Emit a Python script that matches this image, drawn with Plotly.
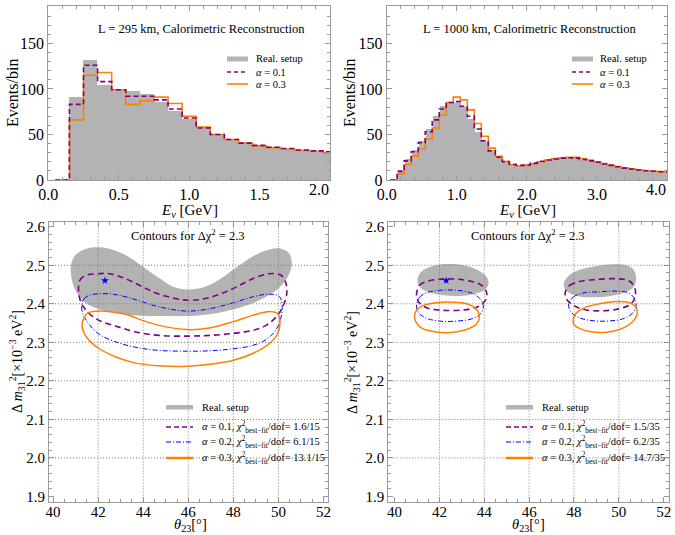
import plotly.graph_objects as go

W, H = 675, 535
FONT = "Liberation Serif"

# ---------------- event spectra (events per 0.1 GeV bin) ----------------
bins_295 = [round(0.1 * k, 1) for k in range(1, 21)]      # bin centres, GeV
real_295 = [0, 91, 132, 104, 100, 98, 94, 86, 76, 67, 58, 50.5, 45, 41, 38, 36, 34.5, 33, 32, 31]
a01_295 = [0, 83, 126, 108, 99, 92, 92, 88, 78, 68, 57, 50, 44.5, 40.5, 38, 36, 34.5, 33, 32, 31]
a03_295 = [0, 66, 115, 118, 99, 83, 87, 91, 84, 70, 58, 50, 44.5, 40.5, 37.5, 35.5, 34, 32.5, 31.5, 30]

bins_1000 = [round(0.1 * k, 1) for k in range(1, 41)]
real_1000 = [0, 11, 23, 33, 43, 56, 70, 81, 86, 85, 80, 67, 53, 42, 33, 25, 20, 17, 17, 18, 19,
             21, 22, 23, 24, 24.5, 24, 22.5, 21, 19.5, 17.5, 16, 14.5, 13, 12, 11, 10.2, 9.6, 9.1, 8.8]
a01_1000 = [0, 9.5, 21, 31, 41, 53, 66, 78, 85, 86, 81, 70, 56, 43, 32, 25, 20, 17, 16, 16.5, 18.5,
            20.5, 22, 23, 24, 24.5, 24, 22.5, 21, 19.5, 17.5, 16, 14.5, 13, 12, 11, 10.2, 9.6, 9.1, 8.8]
a03_1000 = [0, 6.6, 17, 26, 34, 45, 57, 71, 85, 91, 88, 77, 62, 48, 35, 26, 20.5, 17, 15.5, 16, 17.5,
            20, 22, 23.5, 24.5, 25, 24.8, 23.5, 22, 20, 18, 16.3, 14.8, 13.3, 12.2, 11.2, 10.4, 9.7, 9.2, 8.8]
BIN_W = 0.1

# tick labels of the energy axes
ticks_295 = [0.0, 0.5, 1.0, 1.5, 2.0]
ticks_1000 = [0.0, 1.0, 2.0, 3.0, 4.0]

# ---------------- Δχ² = 2.3 contours, (θ23 [deg], Δm31² [1e-3 eV²]) ----------------
real_295_cont = [(40.79, 2.496), (40.93, 2.522), (41.30, 2.539), (41.75, 2.546), (42.49, 2.543),
                 (43.23, 2.526), (43.97, 2.497), (44.71, 2.467), (45.30, 2.445), (45.97, 2.437),
                 (46.64, 2.442), (47.38, 2.463), (48.12, 2.494), (48.86, 2.523), (49.60, 2.541),
                 (50.12, 2.543), (50.46, 2.532), (50.59, 2.509), (50.52, 2.483), (50.27, 2.457),
                 (49.82, 2.431), (49.16, 2.409), (48.41, 2.392), (47.53, 2.379), (46.64, 2.371),
                 (45.97, 2.368), (45.01, 2.368), (43.97, 2.369), (43.08, 2.373), (42.34, 2.381),
                 (41.75, 2.392), (41.30, 2.409), (41.01, 2.433), (40.83, 2.463)]
a01_295_cont = [(41.13, 2.435), (41.19, 2.461), (41.45, 2.474), (42.00, 2.478), (42.49, 2.478),
                (43.23, 2.465), (43.97, 2.444), (44.71, 2.425), (45.97, 2.409), (46.93, 2.416),
                (47.97, 2.439), (48.86, 2.465), (49.60, 2.478), (50.12, 2.474), (50.34, 2.452),
                (50.37, 2.426), (50.19, 2.392), (49.90, 2.366), (49.45, 2.344), (48.86, 2.331),
                (47.97, 2.323), (46.93, 2.318), (45.97, 2.316), (44.71, 2.318), (43.67, 2.327),
                (42.79, 2.342), (42.04, 2.357), (41.53, 2.379), (41.23, 2.405)]
a02_295_cont = [(41.27, 2.400), (41.38, 2.413), (41.60, 2.422), (42.00, 2.426), (42.64, 2.425),
                (43.23, 2.418), (43.97, 2.405), (44.71, 2.392), (45.97, 2.381), (46.93, 2.387),
                (47.97, 2.402), (48.86, 2.418), (49.60, 2.425), (50.04, 2.419), (50.16, 2.400),
                (50.12, 2.366), (49.90, 2.333), (49.45, 2.307), (48.86, 2.292), (47.97, 2.283),
                (46.93, 2.278), (45.97, 2.277), (44.71, 2.279), (43.67, 2.287), (42.79, 2.301),
                (42.04, 2.321), (41.60, 2.347), (41.33, 2.373)]
a03_295_cont = [(41.30, 2.336), (41.33, 2.357), (41.53, 2.376), (42.00, 2.381), (42.64, 2.379),
                (43.23, 2.373), (43.97, 2.357), (44.71, 2.344), (45.97, 2.333), (46.93, 2.337),
                (47.97, 2.353), (48.86, 2.370), (49.60, 2.380), (49.97, 2.374), (50.07, 2.353),
                (49.97, 2.323), (49.60, 2.297), (48.86, 2.271), (47.97, 2.253), (46.93, 2.243),
                (45.97, 2.238), (44.71, 2.239), (43.67, 2.246), (42.79, 2.262), (42.04, 2.284),
                (41.53, 2.310)]

real_1000_lo = [(41.02, 2.457), (41.14, 2.480), (41.51, 2.494), (42.03, 2.502), (42.62, 2.503),
                (43.21, 2.498), (43.73, 2.487), (44.10, 2.470), (44.19, 2.452), (44.03, 2.437),
                (43.59, 2.426), (42.92, 2.420), (42.18, 2.422), (41.59, 2.429), (41.17, 2.441)]
real_1000_hi = [(47.54, 2.452), (47.73, 2.471), (48.10, 2.485), (48.84, 2.496), (49.59, 2.502),
                (50.25, 2.501), (50.65, 2.489), (50.77, 2.465), (50.65, 2.443), (50.25, 2.429),
                (49.51, 2.419), (48.70, 2.417), (48.10, 2.421), (47.66, 2.433)]
a01_1000_lo = [(40.99, 2.430), (41.11, 2.448), (41.44, 2.458), (42.03, 2.464), (42.77, 2.464),
               (43.44, 2.458), (43.88, 2.448), (44.10, 2.430), (44.06, 2.410), (43.73, 2.393),
               (43.07, 2.384), (42.18, 2.383), (41.51, 2.388), (41.14, 2.400), (40.99, 2.415)]
a01_1000_hi = [(47.61, 2.430), (47.81, 2.448), (48.25, 2.458), (48.99, 2.463), (49.88, 2.465),
               (50.47, 2.459), (50.70, 2.443), (50.74, 2.422), (50.55, 2.400), (50.03, 2.387),
               (49.29, 2.382), (48.55, 2.384), (47.96, 2.396), (47.66, 2.413)]
a02_1000_lo = [(40.99, 2.400), (41.11, 2.417), (41.44, 2.429), (42.03, 2.435), (42.77, 2.435),
               (43.44, 2.428), (43.81, 2.413), (43.96, 2.393), (43.84, 2.374), (43.44, 2.361),
               (42.77, 2.355), (42.03, 2.355), (41.44, 2.362), (41.11, 2.374), (40.99, 2.387)]
a02_1000_hi = [(47.76, 2.400), (47.96, 2.417), (48.40, 2.428), (49.14, 2.431), (49.88, 2.433),
               (50.44, 2.428), (50.70, 2.413), (50.77, 2.396), (50.62, 2.376), (50.18, 2.361),
               (49.44, 2.355), (48.70, 2.357), (48.18, 2.365), (47.85, 2.380)]
a03_1000_lo = [(40.89, 2.370), (40.99, 2.384), (41.29, 2.396), (41.88, 2.403), (42.62, 2.404),
               (43.21, 2.400), (43.63, 2.387), (43.78, 2.365), (43.63, 2.346), (43.14, 2.332),
               (42.40, 2.325), (41.73, 2.328), (41.21, 2.337), (40.96, 2.352)]
a03_1000_hi = [(47.96, 2.357), (48.07, 2.374), (48.47, 2.390), (49.14, 2.400), (49.88, 2.406),
               (50.47, 2.403), (50.77, 2.391), (50.81, 2.372), (50.59, 2.352), (50.10, 2.335),
               (49.44, 2.326), (48.70, 2.328), (48.22, 2.337), (48.00, 2.346)]

best_fit = (42.3, 2.46)

chi2_295 = ["1.6/15", "6.1/15", "13.1/15"]
chi2_1000 = ["1.5/35", "6.2/35", "14.7/35"]
alphas = ["0.1", "0.2", "0.3"]

GRAY = "#b3b3b3"
PURPLE = "#800080"
ORANGE = "#ff8000"
BLUE = "#0000ff"
FRAME = "#9a9a9a"


def px(x):
    return x / W


def py(y):
    return 1 - y / H


def step_xy(centres, values):
    edges = [c - BIN_W / 2 for c in centres] + [centres[-1] + BIN_W / 2]
    return edges, list(values) + [values[-1]]


def closed(pts):
    xs = [p[0] for p in pts] + [pts[0][0]]
    ys = [p[1] for p in pts] + [pts[0][1]]
    return xs, ys


def inner_labels(vals):
    # the last label is written separately, right-aligned to the frame corner
    labels = [f"{v:.1f}" for v in vals]
    labels[-1] = ""
    return labels


fig = go.Figure()

# ---- spectra ----
for centres, real, a01, a03, xa, ya in [
    (bins_295, real_295, a01_295, a03_295, "x", "y"),
    (bins_1000, real_1000, a01_1000, a03_1000, "x2", "y2"),
]:
    fig.add_trace(go.Bar(x=centres, y=real, width=BIN_W, marker=dict(color=GRAY, line=dict(width=0)),
                         xaxis=xa, yaxis=ya, showlegend=False))
    ex, ey = step_xy(centres, a03)
    fig.add_trace(go.Scatter(x=ex, y=ey, mode="lines", line=dict(color=ORANGE, width=1.6, shape="hv"),
                             xaxis=xa, yaxis=ya, showlegend=False))
    ex, ey = step_xy(centres, a01)
    fig.add_trace(go.Scatter(x=ex, y=ey, mode="lines",
                             line=dict(color=PURPLE, width=1.6, shape="hv", dash="5px,3px"),
                             xaxis=xa, yaxis=ya, showlegend=False))

# ---- contours ----
contour_style = {
    "a01": dict(color=PURPLE, width=1.6, dash="6px,4px", shape="spline"),
    "a02": dict(color=BLUE, width=1, dash="5px,2px,1px,2px", shape="spline"),
    "a03": dict(color=ORANGE, width=1.5, shape="spline"),
}

panels = [
    ("x3", "y3", [real_295_cont], {"a01": [a01_295_cont], "a02": [a02_295_cont], "a03": [a03_295_cont]}),
    ("x4", "y4", [real_1000_lo, real_1000_hi],
     {"a01": [a01_1000_lo, a01_1000_hi], "a02": [a02_1000_lo, a02_1000_hi], "a03": [a03_1000_lo, a03_1000_hi]}),
]
for xa, ya, real_list, lines in panels:
    for pts in real_list:
        cx, cy = closed(pts)
        fig.add_trace(go.Scatter(x=cx, y=cy, mode="lines", fill="toself", fillcolor=GRAY,
                                 line=dict(width=0, shape="spline", color=GRAY),
                                 xaxis=xa, yaxis=ya, showlegend=False))
    for key in ["a01", "a02", "a03"]:
        for pts in lines[key]:
            cx, cy = closed(pts)
            fig.add_trace(go.Scatter(x=cx, y=cy, mode="lines", line=contour_style[key],
                                     xaxis=xa, yaxis=ya, showlegend=False))
    fig.add_trace(go.Scatter(x=[best_fit[0]], y=[best_fit[1]], mode="markers",
                             marker=dict(symbol="star", size=6, color=BLUE),
                             xaxis=xa, yaxis=ya, showlegend=False))

# ---- axes ----
tick_common = dict(showline=True, linecolor=FRAME, linewidth=1, mirror="allticks",
                   ticks="inside", tickcolor=FRAME, ticklen=5, showgrid=False, zeroline=False,
                   color="black", automargin=False)

TOP_TICK = 16
top_font = dict(family=FONT, size=TOP_TICK, color="black")
bot_font = dict(family=FONT, size=15, color="black")

dom_top = [py(180), py(6)]
dom_bot = [py(501.5), py(221.7)]
dom_l_top = [px(48.3), px(330)]
dom_r_top = [px(386.7), px(667)]
dom_l_bot = [px(49), px(328)]
dom_r_bot = [px(388.3), px(669.3)]


def minor(d):
    return dict(dtick=d, ticklen=3, ticks="inside", tickcolor=FRAME)


fig.update_layout(
    template="none",
    xaxis=dict(domain=dom_l_top, range=[0, 2.0], anchor="y", tickmode="array", tickvals=ticks_295,
               ticktext=inner_labels(ticks_295), tickfont=top_font, minor=minor(0.1), **tick_common),
    yaxis=dict(domain=dom_top, range=[0, 191], anchor="x", tick0=0, dtick=50, tickfont=top_font,
               minor=minor(10), **tick_common),
    xaxis2=dict(domain=dom_r_top, range=[0, 4.0], anchor="y2", tickmode="array", tickvals=ticks_1000,
                ticktext=inner_labels(ticks_1000), tickfont=top_font, minor=minor(0.2), **tick_common),
    yaxis2=dict(domain=dom_top, range=[0, 191], anchor="x2", tick0=0, dtick=50, tickfont=top_font,
                minor=minor(10), **tick_common),
    xaxis3=dict(domain=dom_l_bot, range=[39.82, 52.2], anchor="y3", tick0=40, dtick=2, tickfont=bot_font,
                ticklabelstandoff=-4, minor=minor(0.5), **tick_common),
    yaxis3=dict(domain=dom_bot, range=[1.887, 2.613], anchor="x3", tick0=1.9, dtick=0.1, tickformat=".1f",
                tickfont=bot_font, minor=minor(0.02), **tick_common),
    xaxis4=dict(domain=dom_r_bot, range=[39.72, 52.25], anchor="y4", tick0=40, dtick=2, tickfont=bot_font,
                ticklabelstandoff=-4, minor=minor(0.5), **tick_common),
    yaxis4=dict(domain=dom_bot, range=[1.887, 2.613], anchor="x4", tick0=1.9, dtick=0.1, tickformat=".1f",
                tickfont=bot_font, minor=minor(0.02), **tick_common),
    width=W, height=H, margin=dict(l=0, r=0, t=0, b=0, autoexpand=False),
    paper_bgcolor="white", plot_bgcolor="white", bargap=0,
    font=dict(family=FONT, color="black"),
    showlegend=False,
)

# dotted grid in the contour panels
grid_x = [42, 44, 46, 48, 50]
grid_y = [2.0, 2.1, 2.2, 2.3, 2.4, 2.5]
for xa, ya in [("x3", "y3"), ("x4", "y4")]:
    for gx in grid_x:
        fig.add_shape(type="line", xref=xa, yref=f"{ya} domain", x0=gx, x1=gx, y0=0, y1=1,
                      line=dict(color="#7a7a7a", width=1, dash="1px,2px"), layer="above")
    for gy in grid_y:
        fig.add_shape(type="line", xref=f"{xa} domain", yref=ya, x0=0, x1=1, y0=gy, y1=gy,
                      line=dict(color="#7a7a7a", width=1, dash="1px,2px"), layer="above")

annotations = []


def text(x, y, s, size, anchor="center", angle=0):
    annotations.append(dict(x=px(x), y=py(y), xref="paper", yref="paper", text=s, showarrow=False,
                            xanchor=anchor, yanchor="middle", textangle=angle,
                            font=dict(family=FONT, size=size, color="black")))


def swatch(x0, x1, y, color, width, dash=None):
    line = dict(color=color, width=width)
    if dash:
        line["dash"] = dash
    fig.add_shape(type="line", xref="paper", yref="paper", x0=px(x0), x1=px(x1), y0=py(y), y1=py(y),
                  line=line)


# end labels of the energy axes, held inside the frame corner
for xa, vals in [("x", ticks_295), ("x2", ticks_1000)]:
    annotations.append(dict(x=vals[-1], y=py(189), xref=xa, yref="paper", text=f"{vals[-1]:.1f}",
                            showarrow=False, xanchor="right", yanchor="middle", xshift=1,
                            font=dict(family=FONT, size=TOP_TICK, color="black")))

# panel titles
text(201.7, 29, "L = 295 km, Calorimetric Reconstruction", 12.5)
text(530, 29, "L = 1000 km, Calorimetric Reconstruction", 12.5)
text(188, 235, "Contours for Δχ<sup>2</sup> = 2.3", 12.5)
text(528, 235, "Contours for Δχ<sup>2</sup> = 2.3", 12.5)

# axis titles
ev = "<i>E</i><sub><i>ν</i></sub> [GeV]"
text(189, 211, ev, 15)
text(527, 211, ev, 15)
text(13, 93, "Events/bin", 16, angle=-90)
text(350, 93, "Events/bin", 16, angle=-90)
th = "<i>θ</i><sub>23</sub>[°]"
text(190, 525, th, 14.5)
text(528, 525, th, 14.5)
dm = "Δ <i>m</i><sub>31</sub><sup>2</sup>[×10<sup>−3</sup> eV<sup>2</sup>]"
text(17, 362, dm, 14, angle=-90)
text(352, 362, dm, 14, angle=-90)

# spectrum legends
for x0, x1, xt in [(227, 248, 254), (572, 593, 598)]:
    swatch(x0, x1, 59, GRAY, 5)
    swatch(x0, x1, 72, PURPLE, 1.6, "4px,3px")
    swatch(x0, x1, 84, ORANGE, 1.6)
    text(xt, 59, "Real. setup", 10.5, anchor="left")
    text(xt, 72, "<i>α</i> = 0.1", 10.5, anchor="left")
    text(xt, 84, "<i>α</i> = 0.3", 10.5, anchor="left")

# contour legends
rows = [427, 442, 458]
for x0, x1, xt, chis in [(166, 193, 199.5, chi2_295), (506, 533, 539.5, chi2_1000)]:
    swatch(x0, x1, 407.3, GRAY, 4.5)
    swatch(x0, x1, rows[0], PURPLE, 1.6, "5px,3px")
    swatch(x0, x1, rows[1], BLUE, 1, "5px,2px,1px,2px")
    swatch(x0, x1, rows[2], ORANGE, 2.5)
    text(xt, 407.3, "Real. setup", 10.5, anchor="left")
    for r, a, c in zip(rows, alphas, chis):
        text(xt, r, f"<i>α</i> = {a}, <i>χ</i><sup>2</sup><sub>best−fit</sub>/dof= {c}", 10.5, anchor="left")

fig.update_layout(annotations=annotations)

fig.write_html("out.html")
